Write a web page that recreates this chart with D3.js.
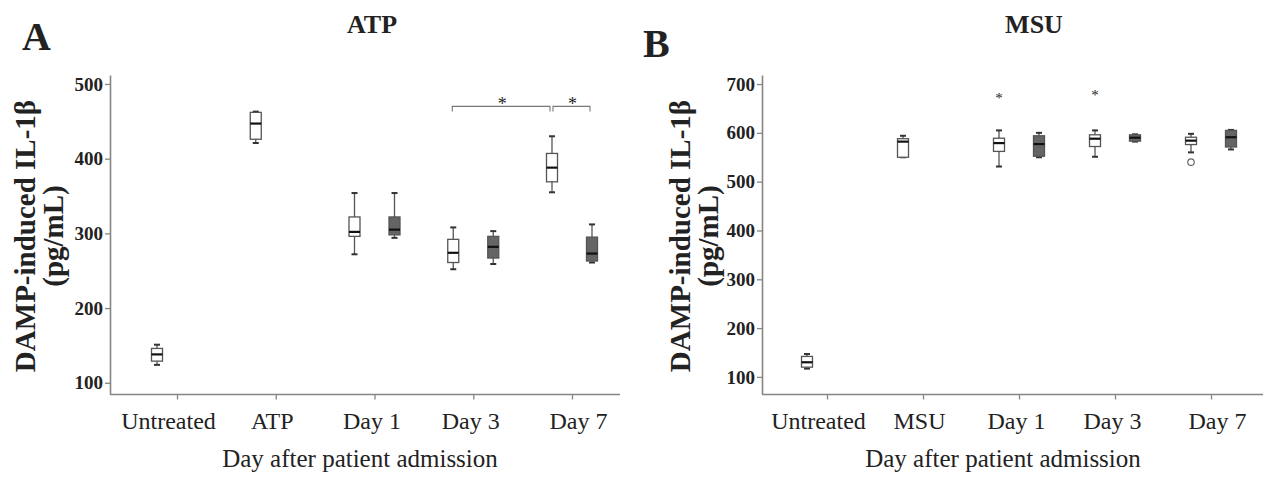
<!DOCTYPE html>
<html>
<head>
<meta charset="utf-8">
<script src="https://cdn.jsdelivr.net/npm/d3@7"></script>
<style>
  body { margin: 0; background: #fff; }
  svg text { font-family: "Liberation Serif", "Times New Roman", serif; fill: #222; }
</style>
</head>
<body>
<div id="chart"></div>
<script>
// categories and ticks
var catsA = ["Untreated", "ATP", "Day 1", "Day 3", "Day 7"];
var catsB = ["Untreated", "MSU", "Day 1", "Day 3", "Day 7"];
var ticksA = [100, 200, 300, 400, 500];
var ticksB = [100, 200, 300, 400, 500, 600, 700];
var groups = ["white", "gray"];

// box summaries: [min, q1, median, q3, max], null = no box
var atpWhite = [[124, 129, 138, 146, 151], [421, 426, 447, 462, 463], [272, 296, 302, 322, 354], [252, 261, 274, 292, 308], [355, 369, 388, 407, 430]];
var atpGray = [null, null, [294, 298, 305, 322, 354], [259, 267, 282, 296, 303], [261, 263, 273, 295, 312]];
var msuWhite = [[117, 120, 130, 142, 147], [550, 550, 582, 588, 594], [531, 562, 579, 589, 605], [551, 572, 588, 596, 605], [560, 576, 584, 591, 598]];
var msuGray = [null, null, [550, 552, 577, 594, 600], [582, 583, 590, 596, 597], [566, 571, 591, 605, 606]];

// outliers: extreme (*) and mild (o)
var msuExtremes = [{ cat: "Day 1", group: "white", v: 676 }, { cat: "Day 3", group: "white", v: 682 }];
var msuMild = [{ cat: "Day 7", group: "white", v: 540 }];

// significance brackets in panel A
var atpSig = [
    { from: ["Day 3", "white"], to: ["Day 7", "white"], v: 470 },
    { from: ["Day 7", "white"], to: ["Day 7", "gray"], v: 470 }
];

var svg = d3.select("#chart")
    .append("svg")
    .attr("width", 1268)
    .attr("height", 482);

var axisColor = "#858585";
var boxStroke = "#555";
var grayFill = "#656565";
// small nudges of the category labels, as in the original figure
var labelShift = [-9, -4, -3, -3, 6];

var sub = d3.scaleBand().domain(groups).range([-40, 40]);

function panel(opt) {
    var g = svg.append("g");
    var x = d3.scalePoint().domain(opt.cats).range(opt.xr);
    var y = d3.scaleLinear().domain(opt.yd).range([394, 75]);
    var cx = (cat, grp) => x(cat) + sub(grp) + sub.bandwidth() / 2;

    // y axis
    var ya = g.append("g")
        .attr("transform", `translate(${opt.axisX}, 0)`)
        .call(d3.axisLeft(y).tickValues(opt.ticks).tickSize(5).tickSizeOuter(0).tickPadding(2));
    ya.select(".domain").attr("stroke", axisColor).attr("stroke-width", 1.6);
    ya.selectAll(".tick line").attr("stroke", axisColor).attr("stroke-width", 1.3);
    ya.selectAll(".tick text")
        .style("font-family", "Liberation Serif")
        .style("font-size", "19px")
        .style("font-weight", "bold")
        .attr("fill", "#222");

    // x axis
    var xa = g.append("g")
        .attr("transform", "translate(0, 394.5)")
        .call(d3.axisBottom(x).tickSize(5).tickSizeOuter(0).tickPadding(12));
    xa.select(".domain").remove();
    xa.selectAll(".tick line").attr("stroke", axisColor).attr("stroke-width", 1.3);
    xa.selectAll(".tick text")
        .attr("dx", (d, i) => labelShift[i])
        .style("font-family", "Liberation Serif")
        .style("font-size", "24px")
        .attr("fill", "#222");
    g.append("line")
        .attr("x1", opt.axisX).attr("x2", opt.xEnd)
        .attr("y1", 394.5).attr("y2", 394.5)
        .attr("stroke", axisColor).attr("stroke-width", 1.6);

    // boxes
    function drawBoxes(series, grp) {
        var rows = series.map((s, i) => ({ cat: opt.cats[i], s: s })).filter(d => d.s);
        var bg = g.selectAll(null).data(rows).enter().append("g");
        var bw = 11, cw = 6;
        bg.append("line")
            .attr("x1", d => cx(d.cat, grp)).attr("x2", d => cx(d.cat, grp))
            .attr("y1", d => y(d.s[0])).attr("y2", d => y(d.s[4]))
            .attr("stroke", boxStroke).attr("stroke-width", 1.3);
        [0, 4].forEach(k => {
            bg.append("line")
                .attr("x1", d => cx(d.cat, grp) - cw / 2).attr("x2", d => cx(d.cat, grp) + cw / 2)
                .attr("y1", d => y(d.s[k])).attr("y2", d => y(d.s[k]))
                .attr("stroke", "#333").attr("stroke-width", 2);
        });
        bg.append("rect")
            .attr("x", d => cx(d.cat, grp) - bw / 2)
            .attr("width", bw)
            .attr("y", d => y(d.s[3]))
            .attr("height", d => Math.max(1, y(d.s[1]) - y(d.s[3])))
            .attr("fill", grp == "gray" ? grayFill : "#fff")
            .attr("stroke", boxStroke).attr("stroke-width", 1.3);
        bg.append("line")
            .attr("x1", d => cx(d.cat, grp) - bw / 2).attr("x2", d => cx(d.cat, grp) + bw / 2)
            .attr("y1", d => y(d.s[2])).attr("y2", d => y(d.s[2]))
            .attr("stroke", "#111").attr("stroke-width", 2.2);
    }
    drawBoxes(opt.white, "white");
    drawBoxes(opt.gray, "gray");

    // outliers
    g.selectAll(null).data(opt.extremes || []).enter().append("text")
        .attr("x", d => cx(d.cat, d.group))
        .attr("y", d => y(d.v) + 7)
        .attr("text-anchor", "middle")
        .style("font-size", "15px")
        .attr("fill", "#444")
        .text("*");
    g.selectAll(null).data(opt.mild || []).enter().append("circle")
        .attr("cx", d => cx(d.cat, d.group))
        .attr("cy", d => y(d.v))
        .attr("r", 3.2)
        .attr("fill", "#fff")
        .attr("stroke", "#666").attr("stroke-width", 1.2);

    // significance brackets
    (opt.sig || []).forEach(s => {
        var x1 = cx(s.from[0], s.from[1]) - 1, x2 = cx(s.to[0], s.to[1]);
        if (s.from[0] == s.to[0]) x1 += 2;
        var yy = y(s.v);
        g.append("path")
            .attr("d", `M${x1},${yy + 5}V${yy}H${x2 - 2}V${yy + 5}`)
            .attr("fill", "none")
            .attr("stroke", "#777").attr("stroke-width", 1.1);
        g.append("text")
            .attr("x", (x1 + x2) / 2)
            .attr("y", yy + 4)
            .attr("text-anchor", "middle")
            .style("font-size", "18px")
            .attr("fill", "#444")
            .text("*");
    });

    // y axis title (two lines)
    var tl = g.append("text")
        .attr("transform", `rotate(-90)`)
        .attr("text-anchor", "middle")
        .style("font-weight", "bold")
        .style("font-size", "29px");
    tl.append("tspan").attr("x", -236).attr("y", opt.titleX).text("DAMP-induced IL-1β");
    tl.append("tspan").attr("x", -236).attr("y", opt.titleX + 28).text("(pg/mL)");

    // x axis title
    g.append("text")
        .attr("x", opt.xTitleX).attr("y", 467)
        .attr("text-anchor", "middle")
        .style("font-size", "25px")
        .text("Day after patient admission");

    // panel title and letter
    g.append("text")
        .attr("x", opt.headX).attr("y", 33)
        .attr("text-anchor", "middle")
        .style("font-weight", "bold")
        .style("font-size", "26px")
        .text(opt.head);
    g.append("text")
        .attr("x", opt.letterX).attr("y", opt.letterY)
        .style("font-weight", "bold")
        .style("font-size", "40px")
        .attr("fill", "#111")
        .text(opt.letter);
}

panel({
    cats: catsA, ticks: ticksA, xr: [177, 572], yd: [85, 512], axisX: 110, xEnd: 620,
    white: atpWhite, gray: atpGray, sig: atpSig,
    titleX: 35, xTitleX: 360, head: "ATP", headX: 372, letter: "A", letterX: 22, letterY: 50
});

panel({
    cats: catsB, ticks: ticksB, xr: [827, 1211], yd: [65, 718.5], axisX: 762, xEnd: 1263,
    white: msuWhite, gray: msuGray, extremes: msuExtremes, mild: msuMild,
    titleX: 690, xTitleX: 1003, head: "MSU", headX: 1034, letter: "B", letterX: 643, letterY: 57
});
</script>
</body>
</html>
